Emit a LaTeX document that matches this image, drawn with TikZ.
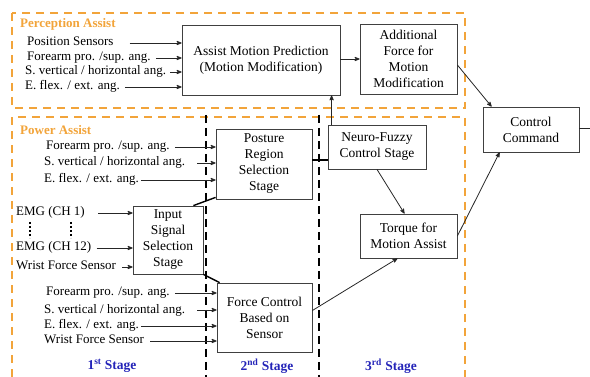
\documentclass[tikz,border=0pt]{standalone}
\usepackage{fontspec}
\setmainfont{Liberation Serif}
\newfontfamily\diagfont{Liberation Serif}
\usetikzlibrary{arrows}
\usetikzlibrary{calc}
\tikzset{>=stealth'}
\definecolor{assistOrange}{HTML}{F2A43A}
\definecolor{stageBlue}{HTML}{2424B8}
\tikzset{
  block/.style={draw=black!75, line width=0.8pt, align=center, inner sep=2pt,
    font=\diagfont\fontsize{13.5}{16}\selectfont},
  inlabel/.style={anchor=west, inner sep=1pt, text height=9pt, text depth=3pt,
    font=\diagfont\fontsize{13}{16}\selectfont},
  feed/.style={->, line width=0.8pt, black!85},
  link/.style={line width=1.4pt, black},
  assist/.style={draw=assistOrange, line width=2.4pt, dash pattern=on 8pt off 6pt},
  stageline/.style={draw=black, line width=1.8pt, dash pattern=on 8pt off 5pt},
  stagelabel/.style={text=stageBlue, font=\diagfont\fontsize{13.5}{16}\selectfont\bfseries},
  assistlabel/.style={anchor=west, inner sep=2pt, text=assistOrange,
    font=\diagfont\fontsize{13}{16}\selectfont\bfseries},
}

\begin{document}
\begin{tikzpicture}[x=1pt, y=-1pt]
    \useasboundingbox (0,0) rectangle (590,377);

    % assist regions
    \draw[assist] (12,13) rectangle (465,108);
    \draw[assist] (12,377) -- (12,117) -- (465,117) -- (465,377);
    \node[assistlabel] (perc) at (18,24) {Perception Assist};
    \node[assistlabel] (power) at (18,130) {Power Assist};

    % stage separators
    \draw[stageline] (206,115) -- (206,377);
    \draw[stageline] (319,115) -- (319,377);

    % blocks
    \node[block, minimum width=158pt, minimum height=70pt] (amp) at (261,60) {Assist Motion Prediction\\(Motion Modification)};
    \node[block, minimum width=97pt, minimum height=70pt] (addf) at (408.5,59) {Additional\\Force for\\Motion\\Modification};
    \node[block, minimum width=96pt, minimum height=45pt] (ctrl) at (531,129.5) {Control\\Command};
    \node[block, minimum width=98pt, minimum height=44pt] (nfc) at (377,147) {Neuro-Fuzzy\\Control Stage};
    \node[block, minimum width=97pt, minimum height=44pt] (torque) at (408.5,236) {Torque for\\Motion Assist};
    \node[block, minimum width=96pt, minimum height=70pt] (posture) at (264,164) {Posture\\Region\\Selection\\Stage};
    \node[block, minimum width=70pt, minimum height=68pt] (iss) at (168,240) {Input\\Signal\\Selection\\Stage};
    \node[block, minimum width=95pt, minimum height=69pt] (fcs) at (264.5,317.5) {Force Control\\Based on\\Sensor};
    \coordinate (cmdout) at (590,128);

    % perception inputs
    \node[inlabel] (ps)  at (26,43) {Position Sensors};
    \node[inlabel] (fa1) at (26,58) {Forearm pro. /sup. ang.};
    \node[inlabel] (sv1) at (24,72) {S. vertical / horizontal ang.};
    \node[inlabel] (ef1) at (24,87) {E. flex. / ext. ang.};
    \draw[feed, shorten <=15pt] (ps.east) -- (ps.east -| amp.west);
    \draw[feed, shorten <=4pt] (fa1.east) -- (fa1.east -| amp.west);
    \draw[feed, shorten <=3pt] (sv1.east) -- (sv1.east -| amp.west);
    \draw[feed, shorten <=4pt] (ef1.east) -- (ef1.east -| amp.west);

    % posture inputs
    \node[inlabel] (fa2) at (45,147) {Forearm pro. /sup. ang.};
    \node[inlabel] (sv2) at (43,163) {S. vertical / horizontal ang.};
    \node[inlabel] (ef2) at (43,180) {E. flex. / ext. ang.};
    \draw[feed, shorten <=4pt] (fa2.east) -- (fa2.east -| posture.west);
    \draw[feed, shorten <=11pt] (sv2.east) -- (sv2.east -| posture.west);
    \draw[feed, shorten <=1pt] (ef2.east) -- (ef2.east -| posture.west);

    % signal inputs
    \node[inlabel] (emg1)  at (15,213) {EMG (CH 1)};
    \node[inlabel] (emg12) at (15,248) {EMG (CH 12)};
    \node[inlabel] (wfs1)  at (15,267) {Wrist Force Sensor};
    \draw[feed, shorten <=12pt] (emg1.east) -- (emg1.east -| iss.west);
    \draw[feed, shorten <=4pt] (emg12.east) -- (emg12.east -| iss.west);
    \draw[feed, shorten <=5pt] (wfs1.east) -- (wfs1.east -| iss.west);
    \draw[line width=1.8pt, dash pattern=on 1.8pt off 2.2pt] (30,222) -- (30,238);
    \draw[line width=1.8pt, dash pattern=on 1.8pt off 2.2pt] (71,222) -- (71,238);

    % force inputs
    \node[inlabel] (fa3)  at (45,293) {Forearm pro. /sup. ang.};
    \node[inlabel] (sv3)  at (43,310) {S. vertical / horizontal ang.};
    \node[inlabel] (ef3)  at (43,326) {E. flex. / ext. ang.};
    \node[inlabel] (wfs2) at (43,341) {Wrist Force Sensor};
    \draw[feed, shorten <=4pt] (fa3.east) -- (fa3.east -| fcs.west);
    \draw[feed, shorten <=11pt] (sv3.east) -- (sv3.east -| fcs.west);
    \draw[feed, shorten <=1pt] (ef3.east) -- (ef3.east -| fcs.west);
    \draw[feed, shorten <=5pt] (wfs2.east) -- (wfs2.east -| fcs.west);

    % connections
    \draw[link] ([xshift=-10pt]iss.north east) -- ([yshift=2pt]posture.south west);
    \draw[link] (iss.south east) -- ([xshift=3pt]fcs.north west);
    \draw[link] ([yshift=4pt]posture.east) -- ([yshift=4pt]posture.east -| nfc.west);
    \draw[feed] (amp.east |- addf.west) -- (addf.west);
    \draw[feed] ([yshift=-6pt]addf.east) -- ([xshift=9pt]ctrl.north west);
    \draw[feed] ([xshift=4pt]nfc.north west) -- ([xshift=4pt]nfc.north west |- amp.south);
    \draw[feed] (nfc.south) -- ([xshift=-4pt]torque.north);
    \draw[feed] (torque.east) -- ([xshift=17pt]ctrl.south west);
    \draw[feed] ([yshift=7pt]fcs.east) -- ([xshift=-11pt]torque.south);
    \draw[line width=0.7pt, black!85] (ctrl.east |- cmdout) -- (cmdout);

    % stage labels
    \node[stagelabel] (st1) at (112,366) {1\textsuperscript{st} Stage};
    \node[stagelabel] (st2) at (267,366) {2\textsuperscript{nd} Stage};
    \node[stagelabel] (st3) at (391,366) {3\textsuperscript{rd} Stage};
\end{tikzpicture}
\end{document}
